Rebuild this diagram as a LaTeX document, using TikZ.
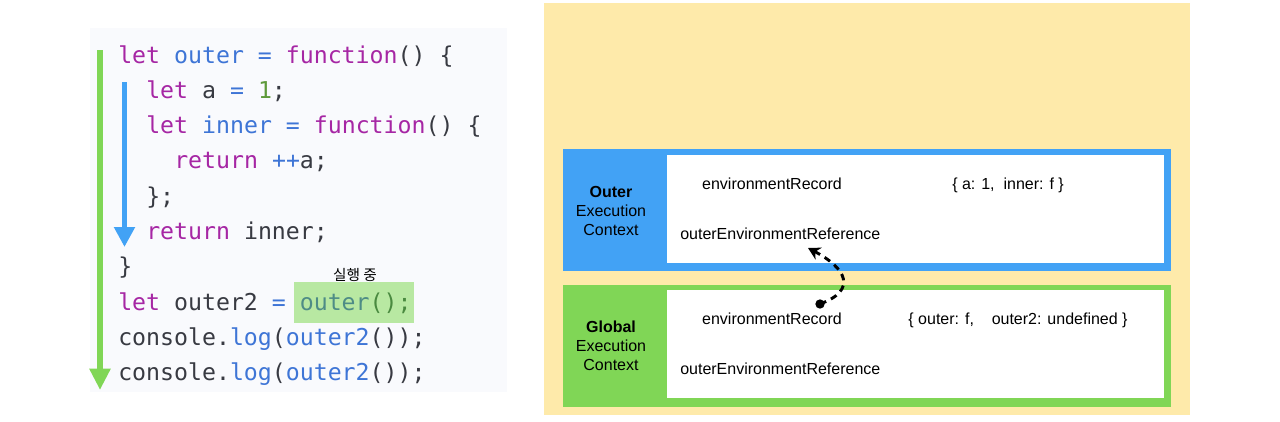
\documentclass[tikz,border=0pt]{standalone}
\usepackage{fontspec}
\usepackage{tikz}
\usetikzlibrary{arrows.meta,positioning}

\setsansfont{Liberation Sans}
\newfontfamily\codefont{DejaVu Sans Mono}
\newfontfamily\krfont{Noto Sans CJK KR}

\definecolor{CodeBg}{HTML}{F9FAFD}
\definecolor{CodeInk}{HTML}{383A42}
\definecolor{KwPurple}{HTML}{A626A4}
\definecolor{IdBlue}{HTML}{3E75D6}
\definecolor{NumGreen}{HTML}{5E9A3A}
\definecolor{FlowGreen}{HTML}{80D656}
\definecolor{FlowBlue}{HTML}{42A2F5}
\definecolor{PanelYellow}{HTML}{FEEAAA}
\definecolor{RunGreen}{HTML}{B8E8A2}
\definecolor{RunIdInk}{HTML}{4E8C86}
\definecolor{RunInk}{HTML}{4A8A40}

\newcommand{\Kw}[1]{\textcolor{KwPurple}{#1}}
\newcommand{\Id}[1]{\textcolor{IdBlue}{#1}}
\newcommand{\Nm}[1]{\textcolor{NumGreen}{#1}}

\begin{document}
\begin{tikzpicture}[x=0.75pt, y=-0.75pt]
			\tikzstyle{Code}	= [anchor=base west, inner sep=0pt, text=CodeInk, font=\codefont\fontsize{17.4}{20}\selectfont]
			\tikzstyle{Info}	= [inner sep=0pt, font=\sffamily\fontsize{12}{14}\selectfont]
			\tikzstyle{Title}	= [Info, align=center, font=\sffamily\fontsize{12}{14.25}\selectfont]
			\tikzstyle{Flow}	= [line width=4.5pt]
			\tikzstyle{Link}	= [line width=2.2pt, dash pattern=on 5pt off 4pt, -{Stealth[length=9pt,width=10pt]}]

			\useasboundingbox (0,0) rectangle (1280,421);

			% code panel
			\fill [CodeBg] (90,28) rectangle (507,392);
			\fill [RunGreen] (294,282) rectangle (414,323);
			\node (L1) at (118,63) [Code] {\Kw{let} \Id{outer} \Id{=} \Kw{function}() \{};
			\node (L2) at (146,98.3) [Code] {\Kw{let} a \Id{=} \Nm{1};};
			\node (L3) at (146,133.6) [Code] {\Kw{let} \Id{inner} \Id{=} \Kw{function}() \{};
			\node (L4) at (174,168.9) [Code] {\Kw{return} \Id{++}a;};
			\node (L5) at (146,204.2) [Code] {\};};
			\node (L6) at (146,239.5) [Code] {\Kw{return} inner;};
			\node (L7) at (118,274.8) [Code] {\}};
			\node (L8) at (118,310.1) [Code] {\Kw{let} outer2 \Id{=} \textcolor{RunIdInk}{outer}\textcolor{RunInk}{();}};
			\node (L9) at (118,345.4) [Code] {console.\Id{log}(\Id{outer2}());};
			\node (L10) at (118,380.7) [Code] {console.\Id{log}(\Id{outer2}());};

			% running call
			\node (Running) at (355,275) [inner sep=0pt, font=\krfont\fontsize{11}{12}\selectfont] {실행 중};

			% flow arrows
			\coordinate (GStart) at (100,50);
			\coordinate (GEnd) at (100,390);
			\coordinate (BStart) at (124.5,82);
			\coordinate (BEnd) at (124.5,247);
			\draw [Flow, FlowGreen, -{Triangle[length=16pt,width=15pt]}] (GStart) -- (GEnd);
			\draw [Flow, FlowBlue, line width=3.8pt, -{Triangle[length=15pt,width=15pt]}] (BStart) -- (BEnd);

			% execution contexts
			\fill [PanelYellow] (544,3) rectangle (1190,415);
			\fill [FlowBlue] (563,149) rectangle (1171,271);
			\fill [white] (667,155) rectangle (1164,263);
			\fill [FlowGreen] (563,285) rectangle (1171,407);
			\fill [white] (667,290) rectangle (1164,398);

			\node (OuterEC) at (611,211) [Title] {\textbf{Outer}\\Execution\\Context};
			\node (OuterRec) at (772,184) [Info] {environmentRecord};
			\node (OuterRef) at (680,234) [Info, anchor=west] {outerEnvironmentReference};
			\node (OuterVal) at (1008,185) [Info] {\{ a: 1,\ \ inner: f \}};

			\node (GlobalEC) at (611,346) [Title] {\textbf{Global}\\Execution\\Context};
			\node (GlobalRec) at (772,319) [Info] {environmentRecord};
			\node (GlobalRef) at (680,369) [Info, anchor=west] {outerEnvironmentReference};
			\node (GlobalVal) at (1018,320) [Info] {\{ outer: f,\ \ \ \ outer2: undefined \}};

			% reference link
			\node (EnvDot) at (820,304) [circle, fill=black, minimum size=7pt, inner sep=0pt] {};
			\coordinate (RefTip) at (808,248);
			\draw [Link] (EnvDot.center) .. controls (858,290) and (846,268) .. (RefTip);
		\end{tikzpicture}
\end{document}
